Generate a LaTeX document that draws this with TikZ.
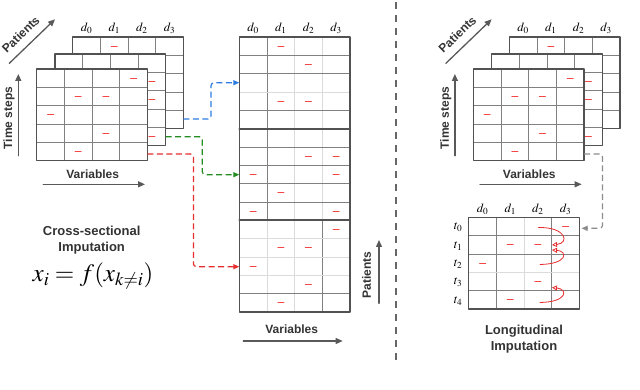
\documentclass[tikz,border=0pt]{standalone}
\usepackage{mathptmx}
\usepackage[no-math]{fontspec}
\setsansfont{Liberation Sans}
\usepackage{xcolor}
\usetikzlibrary{arrows.meta}
\definecolor{linkblue}{RGB}{45,125,225}
\definecolor{linkgreen}{RGB}{35,140,35}
\definecolor{linkred}{RGB}{230,45,45}
\definecolor{missred}{RGB}{245,70,70}
\newcommand{\cellw}{27.67}
\newcommand{\cellh}{18.33}
\tikzset{
  every picture/.style={line join=round, line cap=round, >=Stealth},
  frame/.style={draw=black!68, line width=1.3pt},
  gline/.style={draw=black!50, line width=0.8pt},
  fline/.style={draw=black!14, line width=0.9pt},
  sepline/.style={draw=black!68, line width=1.8pt},
  missline/.style={draw=missred, line width=1pt},
  axis/.style={draw=black!65, line width=1.3pt, -{Triangle[length=7pt,width=6pt]}},
  lbl/.style={font=\sffamily\bfseries\fontsize{12}{14}\selectfont, text=black!80},
  title/.style={font=\sffamily\bfseries\fontsize{13}{16}\selectfont, text=black!80, align=center},
  collab/.style={font=\fontsize{12.5}{14}\selectfont, inner sep=1pt},
  link/.style={line width=1.2pt, line cap=butt, dash pattern=on 6pt off 3.5pt, rounded corners=3pt, -{Triangle[length=6pt,width=5pt]}},
  lng/.style={draw=linkred, line width=0.8pt, -{Triangle[open,length=5pt,width=5pt]}},
  divider/.style={draw=black!60, line width=2pt, line cap=butt, dash pattern=on 7pt off 6pt},
  miss/.pic={\draw[missline] (-3,0) -- (3,0);},
  sheet/.pic={
    \fill[white] (0,0) rectangle (4*\cellw,5*\cellh);
    \foreach \i in {1,2,3} \draw[gline] (\i*\cellw,0) -- (\i*\cellw,5*\cellh);
    \foreach \j in {1,...,4} \draw[gline] (0,\j*\cellh) -- (4*\cellw,\j*\cellh);
    \foreach \mc/\mr in {#1} \pic at ({(\mc+0.5)*\cellw},{(\mr+0.5)*\cellh}) {miss};
    \draw[frame] (0,0) rectangle (4*\cellw,5*\cellh);
  },
  sheetstack/.pic={
    \pic at (36,-32) {sheet={1/0}};
    \pic at (18.3,-15) {sheet={3/1,3/2,3/4}};
    \pic at (0,0) {sheet={3/0,1/1,2/1,0/2,2/3,1/4}};
    \foreach \i in {0,...,3}
      \node[collab] (-d\i) at ({36+(\i+0.5)*\cellw},-41) {$d_{\i}$};
    % axes of the stack
    \coordinate (-pa) at (-27.4,-5.7);
    \coordinate (-pb) at (18.3,-49.7);
    \draw[axis] (-pa) -- (-pb);
    \node[lbl, rotate=44, inner sep=1pt] (-plab) at (-16,-34.5) {Patients};
    \coordinate (-ta) at (-18.4,86.7);
    \coordinate (-tb) at (-18.4,5);
    \draw[axis] (-ta) -- (-tb);
    \node[lbl, rotate=90, inner sep=1pt] (-tlab) at (-27.6,49) {Time steps};
    \coordinate (-va) at (6.6,115.3);
    \coordinate (-vb) at (108.3,115.3);
    \draw[axis] (-va) -- (-vb);
    \node[lbl, inner sep=1pt] (-vlab) at (56,105) {Variables};
    % where the links leave
    \coordinate (-backOut) at (146.7,50);
    \coordinate (-midOut) at (129,67.7);
    \coordinate (-frontOut) at (110.7,85);
  },
}

\begin{document}
\begin{tikzpicture}[x=1pt,y=-1pt]
\useasboundingbox (0,0) rectangle (640,390);

% the two stacks of patient sheets
\pic (L) at (36.7,69) {sheetstack};
\pic (R) at (473.3,69) {sheetstack};

% stacked matrix
\begin{scope}[shift={(239.3,37)}]
  \fill[white] (0,0) rectangle (4*\cellw,15*\cellh);
  \draw[fline, line width=1.6pt] (2*\cellw,0) -- (2*\cellw,10*\cellh);
  \draw[fline] (3*\cellw,0) -- (3*\cellw,10*\cellh);
  \draw[gline] (\cellw,0) -- (\cellw,10*\cellh);
  \draw[fline] (\cellw,10*\cellh) -- (\cellw,15*\cellh);
  \draw[fline] (2*\cellw,10*\cellh) -- (2*\cellw,15*\cellh);
  \draw[gline] (3*\cellw,10*\cellh) -- (3*\cellw,15*\cellh);
  \foreach \j in {3,11,12,13} \draw[fline] (0,\j*\cellh) -- (4*\cellw,\j*\cellh);
  \foreach \j in {1,2,4,6,7,8,9,14} \draw[gline] (0,\j*\cellh) -- (4*\cellw,\j*\cellh);
  \foreach \j in {5,10} \draw[sepline] (0,\j*\cellh) -- (4*\cellw,\j*\cellh);
  \foreach \mc/\mr in {1/0,2/1,1/3,2/3,2/6,3/6,0/7,3/7,1/8,0/9,3/9,3/10,1/11,2/11,0/12,2/13,1/14}
    \pic at ({(\mc+0.5)*\cellw},{(\mr+0.5)*\cellh}) {miss};
  \draw[frame] (0,0) rectangle (4*\cellw,15*\cellh);
  \foreach \i in {0,...,3}
    \node[collab] (md\i) at ({(\i+0.5)*\cellw},-9) {$d_{\i}$};
\end{scope}
\coordinate (blueIn) at (239.3,82.7);
\coordinate (greenIn) at (239.3,174.7);
\coordinate (redIn) at (239.3,266.7);

\coordinate (mpa) at (379,303.3);
\coordinate (mpb) at (379,240);
\draw[axis] (mpa) -- (mpb);
\node[lbl, rotate=90] (mplab) at (366.7,275) {Patients};
\coordinate (mva) at (243.3,341);
\coordinate (mvb) at (342.7,341);
\draw[axis] (mva) -- (mvb);
\node[lbl] (mvlab) at (291.7,329.3) {Variables};

% links from the sheets
\draw[link, draw=linkblue] (L-backOut) -- ++(27.6,0) |- (blueIn);
\draw[link, draw=linkgreen] (L-midOut) -- ++(36.6,0) |- (greenIn);
\draw[link, draw=linkred] (L-frontOut) -- ++(46,0) |- (redIn);

\node[title] (cstitle) at (91.7,240.3) {Cross-sectional\\Imputation};
\node (formula) at (93,276) {\fontsize{25}{28}\selectfont $x_i = f(x_{k\neq i})$};

% divider
\coordinate (dtop) at (396,2);
\coordinate (dbot) at (396,364);
\draw[divider] (dtop) -- (dbot);

% longitudinal matrix
\begin{scope}[shift={(468.7,217.3)}]
  \fill[white] (0,0) rectangle (4*\cellw,5*\cellh);
  \draw[gline] (\cellw,0) -- (\cellw,5*\cellh);
  \draw[fline] (2*\cellw,0) -- (2*\cellw,5*\cellh);
  \draw[gline] (3*\cellw,0) -- (3*\cellw,5*\cellh);
  \foreach \j in {1,2,4} \draw[gline] (0,\j*\cellh) -- (4*\cellw,\j*\cellh);
  \draw[fline] (0,3*\cellh) -- (4*\cellw,3*\cellh);
  \foreach \mc/\mr in {3/0,1/1,2/1,0/2,2/3,1/4}
    \pic at ({(\mc+0.5)*\cellw},{(\mr+0.5)*\cellh}) {miss};
  \draw[frame] (0,0) rectangle (4*\cellw,5*\cellh);
  \foreach \i in {0,...,3}
    \node[collab] (ld\i) at ({(\i+0.5)*\cellw},-8) {$d_{\i}$};
  \foreach \j in {0,...,4}
    \node[collab] (lt\j) at (-10.5,{(\j+0.5)*\cellh+1}) {$t_{\j}$};
\end{scope}
\coordinate (lngIn) at (581.5,228.3);
\draw[link, draw=black!45] (R-frontOut) -- ++(18.5,0) |- (lngIn);

% steps along time
\coordinate (t0s) at (538.5,227.5);
\coordinate (t1a) at (552,245);
\coordinate (t2s) at (540,264.5);
\coordinate (t1b) at (552,250);
\coordinate (t4s) at (540,302.5);
\coordinate (t3a) at (552,287.5);
\draw[lng] (t0s) .. controls (566,227) and (570,243) .. (t1a);
\draw[lng] (t2s) .. controls (568,264) and (568,251) .. (t1b);
\draw[lng] (t4s) .. controls (568,302) and (568,289) .. (t3a);

\node[title] (lgtitle) at (524,339) {Longitudinal\\Imputation};
\end{tikzpicture}
\end{document}
